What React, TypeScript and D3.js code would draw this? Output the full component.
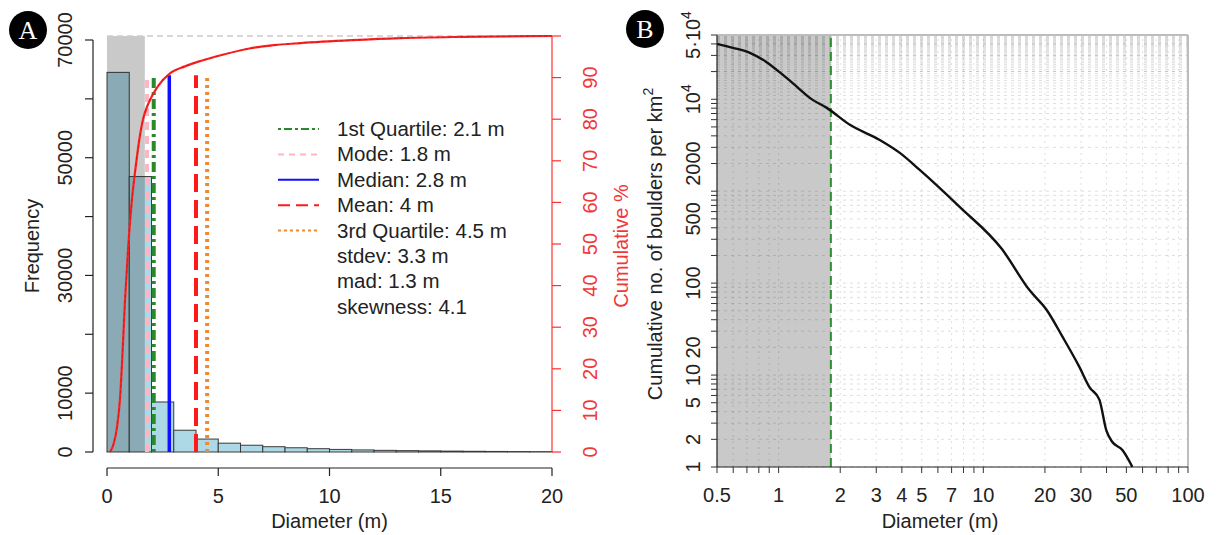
import React from "react";
import * as d3 from "d3";

// ---------- Panel A data ----------
const binEdges = [0, 1, 2, 3, 4, 5, 6, 7, 8, 9, 10, 11, 12, 13, 14, 15, 16, 17, 18, 19, 20];
const binFreq = [64500, 46800, 8500, 3700, 2200, 1500, 1150, 900, 720, 560, 440, 350, 280, 230, 190, 150, 120, 95, 75, 60];
const cumDiam = [0.13, 0.3, 0.45, 0.58, 0.7, 0.81, 0.95, 1.12, 1.3, 1.45, 1.62, 1.8, 1.93, 2.3, 2.83, 3.5, 4.2, 5.2, 6.4, 7.5, 8.7, 11, 13.2, 16, 20];
const cumPct = [0, 2, 6, 12.5, 24, 36.5, 49, 60.6, 69, 75, 80, 83, 84.6, 88, 91, 92.7, 94, 95.5, 97, 97.8, 98.3, 99, 99.5, 99.8, 100];
const shadeMaxA = 1.7;
const statValues = [2.1, 1.8, 2.8, 4, 4.5];
const statLineHeight = 64000;
const legendLabels = ["1st Quartile: 2.1 m", "Mode: 1.8 m", "Median: 2.8 m", "Mean: 4 m", "3rd Quartile: 4.5 m", "stdev: 3.3 m", "mad: 1.3 m", "skewness: 4.1"];
const xTicksA = [0, 5, 10, 15, 20];
const yTicksA = [0, 10000, 20000, 30000, 40000, 50000, 60000, 70000];
const yLabelsA = [0, 10000, 30000, 50000, 70000];
const pctTicks = [0, 10, 20, 30, 40, 50, 60, 70, 80, 90, 100];
const pctLabels = [0, 10, 20, 30, 40, 50, 60, 70, 80, 90];

// ---------- Panel B data ----------
const sfdDiam = [0.5, 0.598, 0.724, 0.87, 1.05, 1.23, 1.42, 1.72, 2.23, 3.12, 3.91, 4.89, 7.66, 12.3, 16.8, 20.4, 24.4, 29.5, 33, 36.9, 39.9, 42.7, 47.8, 53.5];
const sfdCount = [40100, 36300, 32000, 25500, 18400, 13650, 10360, 8060, 5270, 3610, 2610, 1705, 675, 236, 84, 51, 26, 12.2, 7.4, 5.4, 2.5, 1.87, 1.53, 1];
const cutoffB = 1.8;
const xLabelsB = [0.5, 1, 2, 3, 4, 5, 7, 10, 20, 30, 50, 100];
const yLabelsB = [1, 2, 5, 10, 20, 100, 500, 2000, 10000, 50000];

// styles (kept apart from data)
const statColors = ["#2a8a2a", "#ffb6c1", "#1010ff", "#ff1a1a", "#f08a30"];
const statDash = ["3,4,10,4", "8,6", "none", "18,8", "3,4"];
const legendDash = ["3,3,8,3", "6,5", "none", "12,6", "3,3"];
const FONT = "'Liberation Sans', Arial, Helvetica, sans-serif";

export default function App() {
  // Panel A scales
  const xA = d3.scaleLinear().domain([0, 20]).range([107, 552]);
  const yA = d3.scaleLinear().domain([0, 70000]).range([452, 40]);
  const yP = d3.scaleLinear().domain([0, 100]).range([452, 36]);
  const cumLine = d3
    .line<number>()
    .x((_, i) => xA(cumDiam[i]))
    .y((d) => yP(d))
    .curve(d3.curveMonotoneX);

  // Panel B scales
  const xB = d3.scaleLog().domain([0.5, 100]).range([717, 1188]);
  const yB = d3.scaleLog().domain([1, 50000]).range([467, 35]);
  const sfdLine = d3
    .line<number>()
    .x((_, i) => xB(sfdDiam[i]))
    .y((d) => yB(d))
    .curve(d3.curveMonotoneX);
  const gridXB = xB.ticks();
  const gridYB = yB.ticks().concat(d3.range(11000, 50000, 1000));

  const axisA_y = 468;
  const axisA_x = 93;
  const rightAxisX = 552;

  const fmtB = (v: number) => {
    if (v === 10000) return "10^4";
    if (v === 50000) return "5·10^4";
    return String(v);
  };

  return (
    <svg
      width={1216}
      height={535}
      style={{ position: "absolute", left: 0, top: 0, background: "#fff" }}
      fontFamily={FONT}
    >
      <rect x={0} y={0} width={1216} height={535} fill="#fff" />

      {/* ================= Panel A ================= */}
      {binFreq.map((f, i) => (
        <rect
          key={"bar" + i}
          x={xA(binEdges[i])}
          y={yA(f)}
          width={xA(binEdges[i + 1]) - xA(binEdges[i])}
          height={yA(0) - yA(f)}
          fill="#add8e6"
          stroke="#3a3a3a"
          strokeWidth={1}
        />
      ))}
      {/* shaded region */}
      <rect
        x={xA(0)}
        y={yP(100)}
        width={xA(shadeMaxA) - xA(0)}
        height={yP(0) - yP(100)}
        fill="#1e1e1e"
        opacity={0.24}
      />
      {/* 100% dashed line */}
      <line x1={xA(0)} x2={xA(20)} y1={yP(100)} y2={yP(100)} stroke="#cccccc" strokeWidth={1.5} strokeDasharray="6,4" />
      {/* stats vertical lines */}
      {statValues.map((v, i) => (
        <line
          key={"stat" + i}
          x1={xA(v)}
          x2={xA(v)}
          y1={yA(0)}
          y2={yA(statLineHeight)}
          stroke={statColors[i]}
          strokeWidth={i === 2 ? 3.5 : 4}
          strokeDasharray={statDash[i]}
        />
      ))}
      {/* cumulative curve */}
      <path d={cumLine(cumPct) || ""} fill="none" stroke="#ff2020" strokeWidth={2.2} />
      <path d={cumLine(cumPct) || ""} fill="none" stroke="#9a1010" strokeWidth={0.8} strokeDasharray="3,3" opacity={0.6} />

      {/* left axis */}
      <line x1={axisA_x} x2={axisA_x} y1={yA(0)} y2={yA(70000)} stroke="#222" strokeWidth={1.2} />
      {yTicksA.map((t) => (
        <line key={"yta" + t} x1={axisA_x - 8} x2={axisA_x} y1={yA(t)} y2={yA(t)} stroke="#222" strokeWidth={1.2} />
      ))}
      {yLabelsA.map((t) => (
        <text
          key={"yla" + t}
          transform={`translate(72,${yA(t)}) rotate(-90)`}
          textAnchor="middle"
          fontSize={20}
          fill="#222"
        >
          {t}
        </text>
      ))}
      <text transform={`translate(39,246) rotate(-90)`} textAnchor="middle" fontSize={20} fill="#222">
        Frequency
      </text>

      {/* bottom axis */}
      <line x1={xA(0)} x2={xA(20)} y1={axisA_y} y2={axisA_y} stroke="#222" strokeWidth={1.2} />
      {xTicksA.map((t) => (
        <line key={"xta" + t} x1={xA(t)} x2={xA(t)} y1={axisA_y} y2={axisA_y + 8} stroke="#222" strokeWidth={1.2} />
      ))}
      {xTicksA.map((t) => (
        <text key={"xla" + t} x={xA(t)} y={503} textAnchor="middle" fontSize={20} fill="#222">
          {t}
        </text>
      ))}
      <text x={(xA(0) + xA(20)) / 2} y={528} textAnchor="middle" fontSize={20} fill="#222">
        Diameter (m)
      </text>

      {/* right axis (cumulative %) */}
      <line x1={rightAxisX} x2={rightAxisX} y1={yP(0)} y2={yP(100)} stroke="#ff3030" strokeWidth={1.2} />
      {pctTicks.map((t) => (
        <line key={"pt" + t} x1={rightAxisX} x2={rightAxisX + 9} y1={yP(t)} y2={yP(t)} stroke="#ff3030" strokeWidth={1.2} />
      ))}
      {pctLabels.map((t) => (
        <text
          key={"pl" + t}
          transform={`translate(597,${yP(t)}) rotate(-90)`}
          textAnchor="middle"
          fontSize={20}
          fill="#f03838"
        >
          {t}
        </text>
      ))}
      <text transform={`translate(628,246) rotate(-90)`} textAnchor="middle" fontSize={20} fill="#f03838">
        Cumulative %
      </text>

      {/* legend */}
      {legendLabels.map((lab, i) => {
        const cy = 129 + i * 25.4;
        return (
          <g key={"leg" + i}>
            {i < statValues.length && (
              <line
                x1={278}
                x2={319}
                y1={cy}
                y2={cy}
                stroke={statColors[i]}
                strokeWidth={2}
                strokeDasharray={legendDash[i]}
              />
            )}
            <text x={337} y={cy + 7} fontSize={20.5} fill="#222">
              {lab}
            </text>
          </g>
        );
      })}

      {/* panel label A */}
      <circle cx={28} cy={30} r={19} fill="#000" />
      <text x={28} y={39} textAnchor="middle" fontSize={26} fill="#fff" fontFamily="'Liberation Serif', 'DejaVu Serif', serif">
        A
      </text>

      {/* ================= Panel B ================= */}
      <rect
        x={xB(0.5)}
        y={yB(50000)}
        width={xB(cutoffB) - xB(0.5)}
        height={yB(1) - yB(50000)}
        fill="#c9c9c9"
      />
      {gridXB.map((t) => (
        <line
          key={"gx" + t}
          x1={xB(t)}
          x2={xB(t)}
          y1={yB(1)}
          y2={yB(50000)}
          stroke="rgba(0,0,0,0.13)"
          strokeWidth={1}
          strokeDasharray="2,4"
        />
      ))}
      {gridYB.map((t) => (
        <line
          key={"gy" + t}
          x1={xB(0.5)}
          x2={xB(100)}
          y1={yB(t)}
          y2={yB(t)}
          stroke="rgba(0,0,0,0.13)"
          strokeWidth={1}
          strokeDasharray="3,4"
        />
      ))}
      {/* top & right border */}
      <line x1={xB(0.5)} x2={xB(100)} y1={yB(50000)} y2={yB(50000)} stroke="#bdbdbd" strokeWidth={2} />
      <line x1={xB(100)} x2={xB(100)} y1={yB(50000)} y2={yB(1)} stroke="#bdbdbd" strokeWidth={2} />
      {/* cutoff line */}
      <line
        x1={xB(cutoffB)}
        x2={xB(cutoffB)}
        y1={yB(1)}
        y2={yB(50000)}
        stroke="#2e8f2e"
        strokeWidth={2}
        strokeDasharray="9,5"
      />
      {/* SFD curve */}
      <path d={sfdLine(sfdCount) || ""} fill="none" stroke="#111" strokeWidth={2.4} strokeLinejoin="round" />

      {/* axes B */}
      <line x1={xB(0.5)} x2={xB(0.5)} y1={yB(1)} y2={yB(50000)} stroke="#222" strokeWidth={1.2} />
      {yB.ticks().map((t) => (
        <line key={"ytb" + t} x1={xB(0.5) - 6} x2={xB(0.5)} y1={yB(t)} y2={yB(t)} stroke="#333" strokeWidth={1} />
      ))}
      {yLabelsB.map((t) => {
        const s = fmtB(t);
        const parts = s.split("^");
        return (
          <text
            key={"ylb" + t}
            transform={`translate(700,${yB(t)}) rotate(-90)`}
            textAnchor="middle"
            fontSize={20}
            fill="#222"
          >
            {parts[0]}
            {parts.length > 1 && (
              <tspan dy={-9} fontSize={14}>
                {parts[1]}
              </tspan>
            )}
          </text>
        );
      })}
      <text transform={`translate(662,244) rotate(-90)`} textAnchor="middle" fontSize={20} fill="#222">
        Cumulative no. of boulders per km
        <tspan dy={-9} fontSize={14}>
          2
        </tspan>
      </text>

      <line x1={xB(0.5)} x2={xB(100)} y1={yB(1)} y2={yB(1)} stroke="#222" strokeWidth={1.2} />
      {gridXB.map((t) => (
        <line key={"xtb" + t} x1={xB(t)} x2={xB(t)} y1={yB(1)} y2={yB(1) + 6} stroke="#333" strokeWidth={1} />
      ))}
      {xLabelsB.map((t) => (
        <text key={"xlb" + t} x={xB(t)} y={502} textAnchor="middle" fontSize={20} fill="#222">
          {t}
        </text>
      ))}
      <text x={940} y={528} textAnchor="middle" fontSize={20} fill="#222">
        Diameter (m)
      </text>

      {/* panel label B */}
      <circle cx={645} cy={29} r={19} fill="#000" />
      <text x={645} y={38} textAnchor="middle" fontSize={26} fill="#fff" fontFamily="'Liberation Serif', 'DejaVu Serif', serif">
        B
      </text>
    </svg>
  );
}
